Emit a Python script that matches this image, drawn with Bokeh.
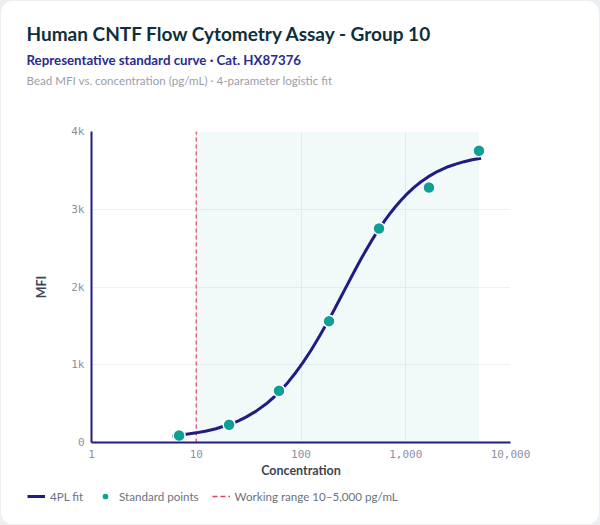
from bokeh.plotting import figure
from bokeh.layouts import column
from bokeh.models import (FixedTicker, Title, Legend, LegendItem, BoxAnnotation,
                          Range1d, GlobalInlineStyleSheet)
from bokeh.embed import file_html
from bokeh.resources import INLINE

# ---- data ----
conc = [6.86, 20.6, 61.7, 185.2, 555.6, 1666.7, 5000]
mfi = [90, 228, 665, 1561, 2752, 3280, 3752]

# 4PL fit curve
fit_conc = [5.9, 7.5, 10, 12.5, 15.4, 20.6, 25, 29.8, 37, 46.3, 55, 61.7, 75, 89.6,
            105, 124.7, 150, 185, 210, 241, 270, 300, 340, 374, 410, 466, 553,
            640, 724, 800, 902, 1000, 1200, 1400, 1633, 2000, 2535, 3000, 3605,
            4300, 5240]
fit_mfi = [84, 100, 124, 149, 177, 231, 276, 326, 400, 495, 582, 647, 773, 904,
           1033, 1187, 1366, 1583, 1721, 1874, 2001, 2119, 2257, 2359, 2455, 2583,
           2742, 2866, 2962, 3035, 3116, 3181, 3282, 3354, 3416, 3485, 3547, 3581,
           3612, 3636, 3657]

working_range = [10, 5000]
x_limits = [1, 10000]
y_limits = [0, 4000]
x_ticks = [1, 10, 100, 1000, 10000]
x_tick_labels = ["1", "10", "100", "1,000", "10,000"]
y_ticks = [0, 1000, 2000, 3000, 4000]
y_tick_labels = ["0", "1k", "2k", "3k", "4k"]

FONT = "Lato"
NAVY = "#211c84"
TEAL = "#0e9f97"
RED = "#dc2f45"

p = figure(width=598, height=483, x_axis_type="log",
           x_range=Range1d(*x_limits), y_range=Range1d(*y_limits),
           output_backend="svg", toolbar_location=None, title=None,
           min_border_left=90, min_border_right=89, min_border_top=130,
           min_border_bottom=42)
p.frame_align = False
p.outline_line_color = None
p.background_fill_color = "white"
p.border_fill_color = "white"

# titles (added from innermost to outermost)
p.add_layout(Title(text=" ", text_font=FONT, text_font_size="1px",
                   align="left", standoff=40), "above")
p.add_layout(Title(text="Bead MFI vs. concentration (pg/mL) · 4-parameter logistic fit",
                   text_font=FONT, text_font_size="11.6px", text_font_style="normal",
                   text_color="#9aa0a8", align="left", offset=-65, standoff=3), "above")
p.add_layout(Title(text="Representative standard curve · Cat. HX87376",
                   text_font=FONT, text_font_size="13.3px", text_font_style="bold",
                   text_color="#2b2a8f", align="left", offset=-65, standoff=5), "above")
p.add_layout(Title(text="Human CNTF Flow Cytometry Assay - Group 10",
                   text_font=FONT, text_font_size="19px", text_font_style="bold",
                   text_color="#0f2f3b", align="left", offset=-65, standoff=5), "above")

# working range shading
p.add_layout(BoxAnnotation(left=working_range[0], right=working_range[1],
                           bottom=y_limits[0], top=y_limits[1],
                           fill_color=TEAL, fill_alpha=0.06,
                           line_color=None, level="underlay"))

wr_kw = dict(line_color=RED, line_alpha=0.7, line_width=1.5, line_dash="4 3")
fit_kw = dict(line_color=NAVY, line_width=3)
pts_kw = dict(size=12, fill_color=TEAL, line_color="white", line_width=1.5)

p.segment(x0=[working_range[0]], y0=[y_limits[0]], x1=[working_range[0]],
          y1=[y_limits[1]], **wr_kw)
p.line(fit_conc, fit_mfi, **fit_kw)
p.scatter(conc, mfi, **pts_kw)

# axes
for ax in (p.xaxis[0], p.yaxis[0]):
    ax.axis_line_color = "#1f1d86"
    ax.axis_line_width = 2
    ax.major_tick_line_color = None
    ax.minor_tick_line_color = None
    ax.major_tick_out = 0
    ax.major_tick_in = 0
    ax.minor_tick_out = 0
    ax.minor_tick_in = 0
    ax.major_label_text_font = "DejaVu Sans Mono"
    ax.major_label_text_font_size = "11px"
    ax.major_label_text_color = "#8b90a6"
    ax.axis_label_text_font = FONT
    ax.axis_label_text_font_size = "12.5px"
    ax.axis_label_text_font_style = "bold"
    ax.axis_label_text_color = "#3d4452"

p.xaxis.ticker = FixedTicker(ticks=x_ticks)
p.xaxis.major_label_overrides = dict(zip(x_ticks, x_tick_labels))
p.xaxis.major_label_standoff = 7
p.xaxis.axis_label = "Concentration"
p.xaxis.axis_label_standoff = 2
p.yaxis.ticker = FixedTicker(ticks=y_ticks)
p.yaxis.major_label_overrides = dict(zip(y_ticks, y_tick_labels))
p.yaxis.major_label_standoff = 7
p.yaxis.axis_label = "MFI"
p.yaxis.axis_label_standoff = 19

p.xgrid.grid_line_color = "#eef0f5"
p.ygrid.grid_line_color = "#eef0f5"
p.xgrid.ticker = FixedTicker(ticks=x_ticks)
p.ygrid.ticker = FixedTicker(ticks=y_ticks)

# ---- legend strip: a separate figure whose view range excludes the data,
# so only the legend is visible ----
lg = figure(width=598, height=40, output_backend="svg", toolbar_location=None,
            x_range=Range1d(-2, -1), y_range=Range1d(-2, -1), min_border=0,
            min_border_left=0, min_border_right=0, min_border_top=0,
            min_border_bottom=0, x_axis_location=None, y_axis_location=None)
lg.frame_align = False
lg.grid.visible = False
lg.outline_line_color = None
lg.border_fill_color = "white"
lg.background_fill_color = "white"
l_fit = lg.line(fit_conc, fit_mfi, **fit_kw)
l_pts = lg.scatter(conc, mfi, **pts_kw)
l_wr = lg.segment(x0=[working_range[0]], y0=[y_limits[0]], x1=[working_range[0]],
                  y1=[y_limits[1]], line_color=RED, line_alpha=0.9, line_width=1.5,
                  line_dash="5 3")

legend = Legend(items=[LegendItem(label="4PL fit", renderers=[l_fit]),
                       LegendItem(label="Standard points", renderers=[l_pts]),
                       LegendItem(label="Working range 10–5,000 pg/mL", renderers=[l_wr])],
                orientation="horizontal", location=(26, 18), padding=0, margin=0,
                spacing=13, label_text_font=FONT, label_text_font_size="11.6px",
                label_text_color="#6b7280", border_line_color=None,
                background_fill_alpha=0, glyph_width=18, label_standoff=5)
lg.add_layout(legend, "center")

layout = column(p, lg, spacing=0)
layout.stylesheets = [GlobalInlineStyleSheet(css="html,body{margin:0;padding:0;background:#eceef2;}")]
layout.styles = {"margin": "1px", "border-radius": "12px", "overflow": "hidden",
                 "background-color": "white"}

open("out.html", "w").write(file_html(layout, INLINE))
